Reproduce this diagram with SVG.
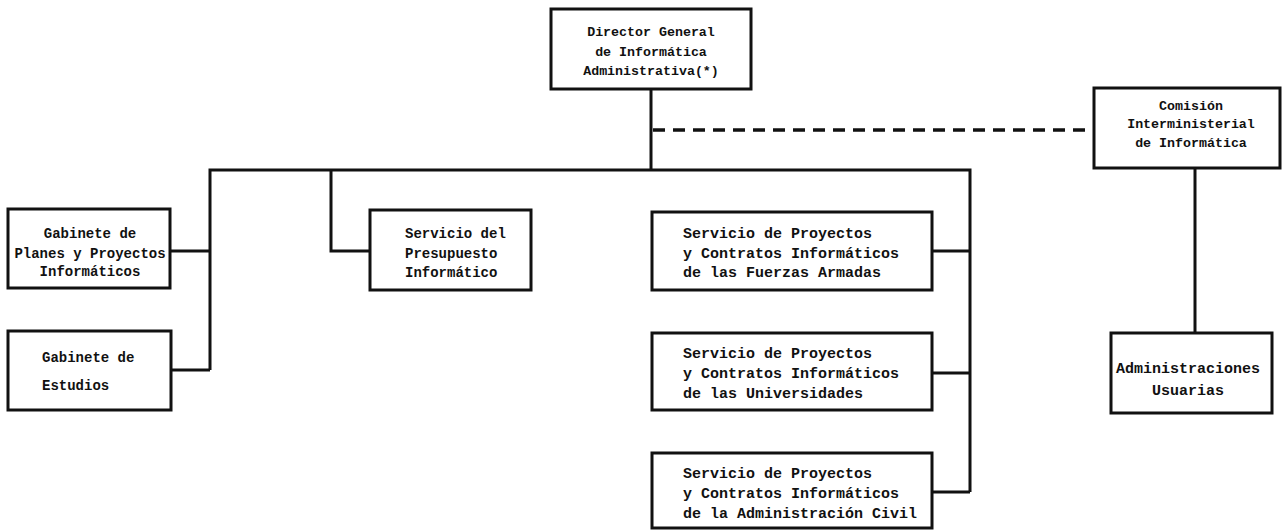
<svg xmlns="http://www.w3.org/2000/svg" width="1286" height="532" viewBox="0 0 1286 532">
<style>
.box{fill:#fff;stroke:#111;stroke-width:3}
.ln{fill:none;stroke:#111;stroke-width:3;stroke-linejoin:miter}
.dash{fill:none;stroke:#111;stroke-width:3.5;stroke-dasharray:12 8}
text{font-family:"Liberation Mono","DejaVu Sans Mono",monospace;font-weight:bold;fill:#111}
.s13{font-size:13.3px}
.s14{font-size:14px}
.s15{font-size:15px}
.c{text-anchor:middle}
</style>
<rect width="1286" height="532" fill="#fff"/>
<g id="connectors">
<path class="ln" d="M651 89V170"/>
<path class="ln" d="M210 370V170H970V492"/>
<path class="ln" d="M170 251H210M171 370H210"/>
<path class="ln" d="M331 170V251H370"/>
<path class="ln" d="M932 251H970M932 373H970M932 492H970"/>
<path class="dash" d="M653 130H1096"/>
<path class="ln" d="M1195 168V333"/>
</g>
<g id="director">
<rect class="box" x="551" y="9" width="200" height="80"/>
<text class="s13 c" x="651" y="36">Director General</text>
<text class="s13 c" x="651" y="56">de Informática</text>
<text class="s13 c" x="651" y="75">Administrativa(*)</text>
</g>
<g id="comision">
<rect class="box" x="1094" y="88" width="186" height="80"/>
<text class="s13 c" x="1191" y="110">Comisión</text>
<text class="s13 c" x="1191" y="128">Interministerial</text>
<text class="s13 c" x="1191" y="147">de Informática</text>
</g>
<g id="administraciones">
<rect class="box" x="1111" y="333" width="161" height="80"/>
<text class="s15 c" x="1188" y="373">Administraciones</text>
<text class="s15 c" x="1188" y="395">Usuarias</text>
</g>
<g id="gabinete-planes">
<rect class="box" x="8" y="209" width="162" height="79"/>
<text class="s14 c" x="90" y="238">Gabinete de</text>
<text class="s14 c" x="90" y="258">Planes y Proyectos</text>
<text class="s14 c" x="90" y="276">Informáticos</text>
</g>
<g id="gabinete-estudios">
<rect class="box" x="8" y="331" width="163" height="79"/>
<text class="s14" x="42" y="362">Gabinete de</text>
<text class="s14" x="42" y="390">Estudios</text>
</g>
<g id="presupuesto">
<rect class="box" x="370" y="210" width="161" height="80"/>
<text class="s14" x="405" y="238">Servicio del</text>
<text class="s14" x="405" y="258">Presupuesto</text>
<text class="s14" x="405" y="277">Informático</text>
</g>
<g id="fuerzas-armadas">
<rect class="box" x="652" y="212" width="280" height="78"/>
<text class="s15" x="683" y="238">Servicio de Proyectos</text>
<text class="s15" x="683" y="258">y Contratos Informáticos</text>
<text class="s15" x="683" y="277">de las Fuerzas Armadas</text>
</g>
<g id="universidades">
<rect class="box" x="652" y="333" width="280" height="77"/>
<text class="s15" x="683" y="358">Servicio de Proyectos</text>
<text class="s15" x="683" y="378">y Contratos Informáticos</text>
<text class="s15" x="683" y="398">de las Universidades</text>
</g>
<g id="administracion-civil">
<rect class="box" x="652" y="453" width="280" height="75"/>
<text class="s15" x="683" y="478">Servicio de Proyectos</text>
<text class="s15" x="683" y="498">y Contratos Informáticos</text>
<text class="s15" x="683" y="518">de la Administración Civil</text>
</g>
</svg>
